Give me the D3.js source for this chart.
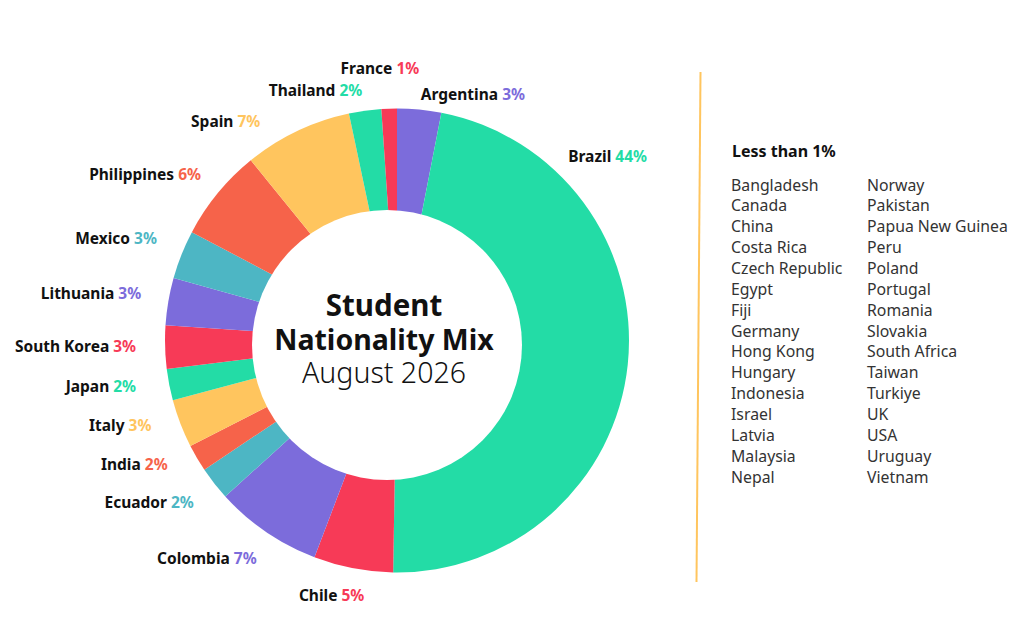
<!DOCTYPE html>
<html>
<head>
<meta charset="utf-8">
<script src="https://cdn.jsdelivr.net/npm/d3@7"></script>
<style>
  html, body { margin: 0; padding: 0; background: #fff; }
  svg { display: block; font-family: "Noto Sans", sans-serif; }
</style>
</head>
<body>
<svg id="chart"></svg>
<script>
// student nationality donut, drawn with d3.pie / d3.arc

const WIDTH = 1024;
const HEIGHT = 625;

// data (clockwise from 12 o'clock), share of students in %
const countries = ["Argentina", "Brazil", "Chile", "Colombia", "Ecuador", "India", "Italy",
	"Japan", "South Korea", "Lithuania", "Mexico", "Philippines", "Spain", "Thailand", "France"];
const shares = [2.85, 43.9, 5.14, 6.95, 2.17, 1.76, 3.13, 2.04, 2.79, 3.07, 3.15, 5.97, 7.0, 2.09, 1.0];

const lessThanOne = ["Bangladesh", "Canada", "China", "Costa Rica", "Czech Republic", "Egypt", "Fiji",
	"Germany", "Hong Kong", "Hungary", "Indonesia", "Israel", "Latvia", "Malaysia", "Nepal",
	"Norway", "Pakistan", "Papua New Guinea", "Peru", "Poland", "Portugal", "Romania", "Slovakia",
	"South Africa", "Taiwan", "Turkiye", "UK", "USA", "Uruguay", "Vietnam"];

const titleLines = ["Student", "Nationality Mix", "August 2026"];

// colours
const C = {
	green: "#23dca6", purple: "#7c6cdb", pink: "#f73a57",
	orange: "#f6634a", yellow: "#ffc55e", teal: "#4db6c4"
};
const sliceColors = [C.purple, C.green, C.pink, C.purple, C.teal, C.orange, C.yellow,
	C.green, C.pink, C.purple, C.teal, C.orange, C.yellow, C.green, C.pink];

// geometry
const cx = 397, cy = 340.5;
const outerRadius = 232;
const hole = { x: 387, y: 345, r: 135 };
const labelRadius = 260;

// hand placed labels where the default spot does not work (degrees)
const labelTweaks = {
	Brazil: { angle: 43, r: 251 },
	Argentina: { r: 247 },
	Thailand: { r: 252 },
	France: { angle: 356.4, r: 272, anchor: "middle" },
	Chile: { angle: 194.4, r: 263, anchor: "middle" },
	Spain: { angle: 328, r: 258 },
	Philippines: { angle: 310.3, r: 257 },
	Mexico: { angle: 293.1, r: 261 },
	Lithuania: { angle: 280.3 },
	"South Korea": { angle: 268.6, r: 261 },
	Japan: { angle: 259.9, r: 265 },
	Italy: { angle: 250.8 },
	India: { angle: 241.5, r: 261 },
	Ecuador: { angle: 231.4 },
	Colombia: { angle: 212.8, r: 259 }
};

const color = d3.scaleOrdinal().domain(countries).range(sliceColors);

const data = countries.map((name, i) => ({ name, value: shares[i] }));

const svg = d3.select("#chart")
	.attr("width", WIDTH)
	.attr("height", HEIGHT)
	.attr("viewBox", `0 0 ${WIDTH} ${HEIGHT}`);

const pie = d3.pie()
	.sort(null)
	.value(d => d.value);

const arc = d3.arc()
	.innerRadius(0)
	.outerRadius(outerRadius);

const arcs = pie(data);

const chart = svg.append("g")
	.attr("transform", `translate(${cx},${cy})`);

chart.selectAll("path")
	.data(arcs)
	.join("path")
	.attr("d", arc)
	.attr("fill", d => color(d.data.name));

// white hole (sits a little off centre)
svg.append("circle")
	.attr("cx", hole.x)
	.attr("cy", hole.y)
	.attr("r", hole.r)
	.attr("fill", "#fff");

// labels
const toRad = deg => deg * Math.PI / 180;

const labels = chart.append("g")
	.attr("font-weight", 700)
	.attr("font-size", 15.5)
	.selectAll("text")
	.data(arcs)
	.join("text")
	.each(function(d) {
		const t = labelTweaks[d.data.name] || {};
		const a = t.angle !== undefined ? toRad(t.angle) : (d.startAngle + d.endAngle) / 2;
		const r = t.r || labelRadius;
		const x = r * Math.sin(a);
		const y = -r * Math.cos(a);
		const anchor = t.anchor || (x < 0 ? "end" : "start");
		d3.select(this)
			.attr("x", x)
			.attr("y", y)
			.attr("dy", "0.35em")
			.attr("text-anchor", anchor);
	});

labels.append("tspan")
	.attr("fill", "#111")
	.text(d => d.data.name + " ");

labels.append("tspan")
	.attr("fill", d => color(d.data.name))
	.text(d => Math.round(d.data.value) + "%");

// title in the hole
const title = svg.append("g")
	.attr("text-anchor", "middle")
	.attr("fill", "#111");

title.selectAll("text")
	.data(titleLines)
	.join("text")
	.attr("x", 384)
	.attr("y", (d, i) => 316 + i * 33.5)
	.attr("font-size", (d, i) => i === 0 ? 29.5 : 28.5)
	.attr("font-weight", (d, i) => i < 2 ? 700 : 300)
	.text(d => d);

// divider
svg.append("line")
	.attr("x1", 700.5).attr("y1", 72)
	.attr("x2", 696.5).attr("y2", 582)
	.attr("stroke", C.yellow)
	.attr("stroke-width", 2);

// less than 1% list
svg.append("text")
	.attr("x", 732)
	.attr("y", 157)
	.attr("font-size", 16)
	.attr("font-weight", 700)
	.attr("fill", "#111")
	.text("Less than 1%");

const perCol = Math.ceil(lessThanOne.length / 2);
const colX = d3.scalePoint().domain([0, 1]).range([731, 867]);
const rowY = d3.scaleLinear().domain([0, perCol - 1]).range([190.5, 482.5]);

svg.append("g")
	.attr("font-size", 15.8)
	.attr("fill", "#333")
	.selectAll("text")
	.data(lessThanOne)
	.join("text")
	.attr("x", (d, i) => colX(Math.floor(i / perCol)))
	.attr("y", (d, i) => rowY(i % perCol))
	.text(d => d);
</script>
</body>
</html>
